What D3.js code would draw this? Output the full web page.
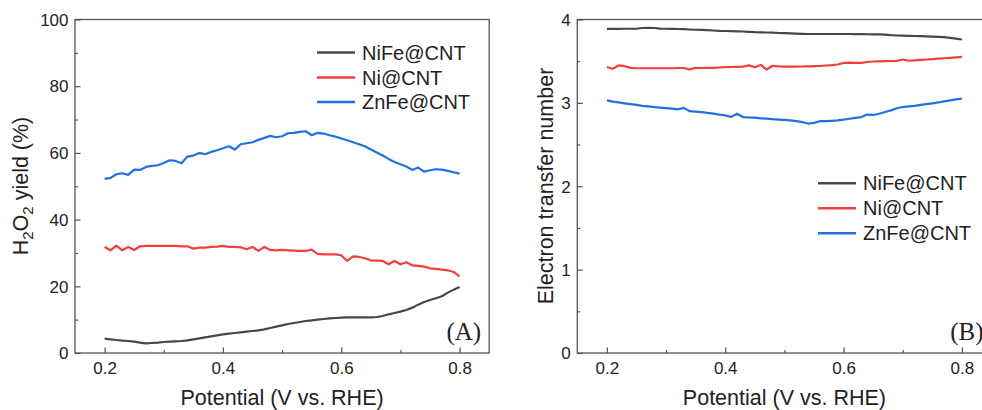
<!DOCTYPE html>
<html>
<head>
<meta charset="utf-8">
<script src="https://cdn.jsdelivr.net/npm/d3@7"></script>
<style>
  html, body { margin: 0; padding: 0; background: #fff; }
  svg { display: block; }
</style>
</head>
<body>
<svg id="chart" width="982" height="410"></svg>
<script>
// Potential sweep (V vs. RHE)
const potential = [0.20,0.21,0.22,0.23,0.24,0.25,0.26,0.27,0.28,0.29,0.30,0.31,0.32,0.33,0.34,0.35,0.36,0.37,0.38,0.39,0.40,
  0.41,0.42,0.43,0.44,0.45,0.46,0.47,0.48,0.49,0.50,0.51,0.52,0.53,0.54,0.55,0.56,0.57,0.58,0.59,0.60,
  0.61,0.62,0.63,0.64,0.65,0.66,0.67,0.68,0.69,0.70,0.71,0.72,0.73,0.74,0.75,0.76,0.77,0.78,0.79,0.80];

const seriesNames = ["NiFe@CNT", "Ni@CNT", "ZnFe@CNT"];
const seriesColors = ["#474747", "#f43d3d", "#2270e4"];

// H2O2 yield (%)
const yieldNiFe = [4.3,4.1,3.9,3.7,3.6,3.4,3.1,2.9,3.0,3.1,3.3,3.4,3.5,3.6,3.8,4.1,4.4,4.7,5.0,5.3,5.6,
  5.8,6.0,6.2,6.4,6.6,6.8,7.1,7.5,7.9,8.3,8.7,9.0,9.3,9.6,9.8,10.0,10.2,10.4,10.5,10.6,
  10.7,10.7,10.7,10.7,10.7,10.8,11.1,11.6,12.0,12.4,12.9,13.6,14.5,15.3,15.9,16.4,17.0,18.1,19.0,19.8];
const yieldNi = [31.8,30.8,32.2,30.8,31.8,30.9,32.0,32.1,32.1,32.1,32.1,32.1,32.1,32.0,32.0,31.3,31.6,31.6,31.8,31.9,32.1,
  31.8,31.8,31.7,31.1,31.8,30.6,31.8,30.9,30.8,30.9,30.8,30.7,30.6,30.6,31.0,29.7,29.6,29.6,29.6,29.3,
  27.6,29.0,28.8,28.4,27.8,27.7,27.6,26.6,27.6,26.6,27.2,26.3,26.1,25.9,25.4,25.2,25.0,24.8,24.3,23.0];
const yieldZnFe = [52.2,52.5,53.6,53.9,53.4,55.0,54.9,55.8,56.1,56.3,57.0,57.8,57.6,56.9,58.9,59.2,60.0,59.6,60.3,60.8,61.4,
  62.0,61.0,62.6,62.9,63.2,63.9,64.5,65.1,64.7,65.0,65.9,66.0,66.3,66.5,65.3,66.0,65.8,65.3,64.9,64.3,
  63.8,63.2,62.6,62.0,61.0,60.1,59.2,58.2,57.3,56.6,55.9,54.9,55.6,54.4,54.8,55.1,55.0,54.6,54.2,53.8];

// Electron transfer number
const nNiFe = [3.888,3.888,3.888,3.889,3.889,3.889,3.898,3.900,3.898,3.890,3.889,3.888,3.886,3.884,3.880,3.877,3.876,3.872,3.868,3.864,3.862,
  3.860,3.858,3.856,3.852,3.848,3.846,3.844,3.842,3.838,3.836,3.833,3.830,3.828,3.826,3.826,3.826,3.826,3.826,3.826,3.826,
  3.826,3.825,3.824,3.823,3.822,3.822,3.818,3.812,3.808,3.806,3.804,3.802,3.800,3.797,3.795,3.792,3.788,3.780,3.770,3.760];
const nNi = [3.430,3.410,3.450,3.440,3.420,3.415,3.415,3.415,3.415,3.415,3.415,3.415,3.418,3.418,3.400,3.420,3.418,3.420,3.420,3.424,3.428,
  3.430,3.432,3.435,3.450,3.428,3.455,3.400,3.445,3.438,3.435,3.434,3.434,3.436,3.438,3.440,3.442,3.448,3.452,3.460,3.478,
  3.482,3.480,3.480,3.490,3.496,3.498,3.500,3.502,3.504,3.520,3.505,3.510,3.516,3.520,3.524,3.530,3.535,3.540,3.546,3.552];
const nZnFe = [3.030,3.015,3.005,2.995,2.985,2.975,2.965,2.958,2.950,2.943,2.937,2.930,2.922,2.940,2.900,2.895,2.888,2.880,2.870,2.860,2.850,
  2.832,2.870,2.830,2.825,2.822,2.815,2.812,2.805,2.800,2.795,2.790,2.782,2.770,2.752,2.760,2.780,2.780,2.785,2.790,2.800,
  2.810,2.820,2.830,2.860,2.855,2.870,2.890,2.910,2.935,2.950,2.958,2.965,2.975,2.985,2.995,3.005,3.018,3.030,3.042,3.050];

const xTicks = [0.2, 0.4, 0.6, 0.8];
const xMinor = [0.3, 0.5, 0.7];
const yieldTicks = [0, 20, 40, 60, 80, 100];
const yieldMinor = [10, 30, 50, 70, 90];
const nTicks = [0, 1, 2, 3, 4];
const nMinor = [0.5, 1.5, 2.5, 3.5];

const svg = d3.select("#chart");
const sans = "'Liberation Sans', Arial, sans-serif";
const serif = "'Liberation Serif', 'Times New Roman', serif";
const frameColor = "#555";

function panel(opts) {
  const g = svg.append("g");
  const x = d3.scaleLinear().domain([0.15, 0.85]).range([opts.left, opts.left + 414.2]);
  const y = d3.scaleLinear().domain(opts.yDomain).range([353, 19.5]);

  // series
  const line = d3.line().x((d, i) => x(potential[i])).y(d => y(d));
  opts.series.forEach((vals, k) => {
    g.append("path").datum(vals)
      .attr("d", line)
      .attr("fill", "none")
      .attr("stroke", seriesColors[k])
      .attr("stroke-width", 2.2)
      .attr("stroke-linejoin", "round");
  });

  // frame
  g.append("rect")
    .attr("x", x.range()[0]).attr("y", 19.5)
    .attr("width", x.range()[1] - x.range()[0]).attr("height", 353 - 19.5)
    .attr("fill", "none").attr("stroke", frameColor).attr("stroke-width", 1.3);

  // bottom axis, inward ticks
  const xa = g.append("g").attr("transform", "translate(0,353)")
    .call(d3.axisBottom(x).tickValues(xTicks).tickSize(-5.5).tickFormat(d3.format(".1f")));
  xa.select(".domain").remove();
  xa.selectAll("line").attr("stroke", frameColor).attr("stroke-width", 1.2);
  xa.selectAll("text").attr("y", 21).attr("dy", null)
    .attr("font-family", sans).attr("font-size", 17).attr("fill", "#222");
  const xm = g.append("g").attr("transform", "translate(0,353)")
    .call(d3.axisBottom(x).tickValues(xMinor).tickSize(-3).tickFormat(""));
  xm.select(".domain").remove();
  xm.selectAll("line").attr("stroke", frameColor).attr("stroke-width", 1.2);

  // left axis, inward ticks
  const ya = g.append("g").attr("transform", `translate(${x.range()[0]},0)`)
    .call(d3.axisLeft(y).tickValues(opts.yTicks).tickSize(-5.5).tickFormat(d3.format("d")));
  ya.select(".domain").remove();
  ya.selectAll("line").attr("stroke", frameColor).attr("stroke-width", 1.2);
  ya.selectAll("text").attr("x", -6.5).attr("dy", "0.34em")
    .attr("font-family", sans).attr("font-size", 17).attr("fill", "#222");
  const ym = g.append("g").attr("transform", `translate(${x.range()[0]},0)`)
    .call(d3.axisLeft(y).tickValues(opts.yMinor).tickSize(-3).tickFormat(""));
  ym.select(".domain").remove();
  ym.selectAll("line").attr("stroke", frameColor).attr("stroke-width", 1.2);

  // axis titles
  g.append("text")
    .attr("x", (x.range()[0] + x.range()[1]) / 2).attr("y", 405)
    .attr("text-anchor", "middle")
    .attr("font-family", sans).attr("font-size", 21.5).attr("fill", "#222")
    .text("Potential (V vs. RHE)");

  const yt = g.append("text")
    .attr("transform", `translate(${opts.yTitleX},186) rotate(-90)`)
    .attr("text-anchor", "middle")
    .attr("font-family", sans).attr("font-size", 21.5).attr("fill", "#222");
  opts.yTitle(yt);

  // panel tag
  g.append("text")
    .attr("x", x.range()[1] - 8).attr("y", 340)
    .attr("text-anchor", "end")
    .attr("font-family", serif).attr("font-size", 25).attr("fill", "#222")
    .text(opts.tag);

  // legend
  seriesNames.forEach((name, k) => {
    const ly = opts.legendY[k];
    g.append("line")
      .attr("x1", opts.legendX).attr("x2", opts.legendX + 38)
      .attr("y1", ly).attr("y2", ly)
      .attr("stroke", seriesColors[k]).attr("stroke-width", 2.6);
    g.append("text")
      .attr("x", opts.legendX + 45).attr("y", ly).attr("dy", "0.35em")
      .attr("font-family", sans).attr("font-size", 20).attr("fill", "#222")
      .text(name);
  });
}

panel({
  left: 75,
  yDomain: [0, 100],
  yTicks: yieldTicks,
  yMinor: yieldMinor,
  series: [yieldNiFe, yieldNi, yieldZnFe],
  yTitleX: 28,
  yTitle: t => {
    t.append("tspan").text("H");
    t.append("tspan").attr("font-size", 15).attr("dy", 5).text("2");
    t.append("tspan").attr("dy", -5).text("O");
    t.append("tspan").attr("font-size", 15).attr("dy", 5).text("2");
    t.append("tspan").attr("dy", -5).text(" yield (%)");
  },
  tag: "(A)",
  legendX: 317,
  legendY: [52.5, 77.5, 102]
});

panel({
  left: 577.3,
  yDomain: [0, 4],
  yTicks: nTicks,
  yMinor: nMinor,
  series: [nNiFe, nNi, nZnFe],
  yTitleX: 553,
  yTitle: t => t.text("Electron transfer number"),
  tag: "(B)",
  legendX: 818,
  legendY: [183.3, 208.3, 233.3]
});
</script>
</body>
</html>
